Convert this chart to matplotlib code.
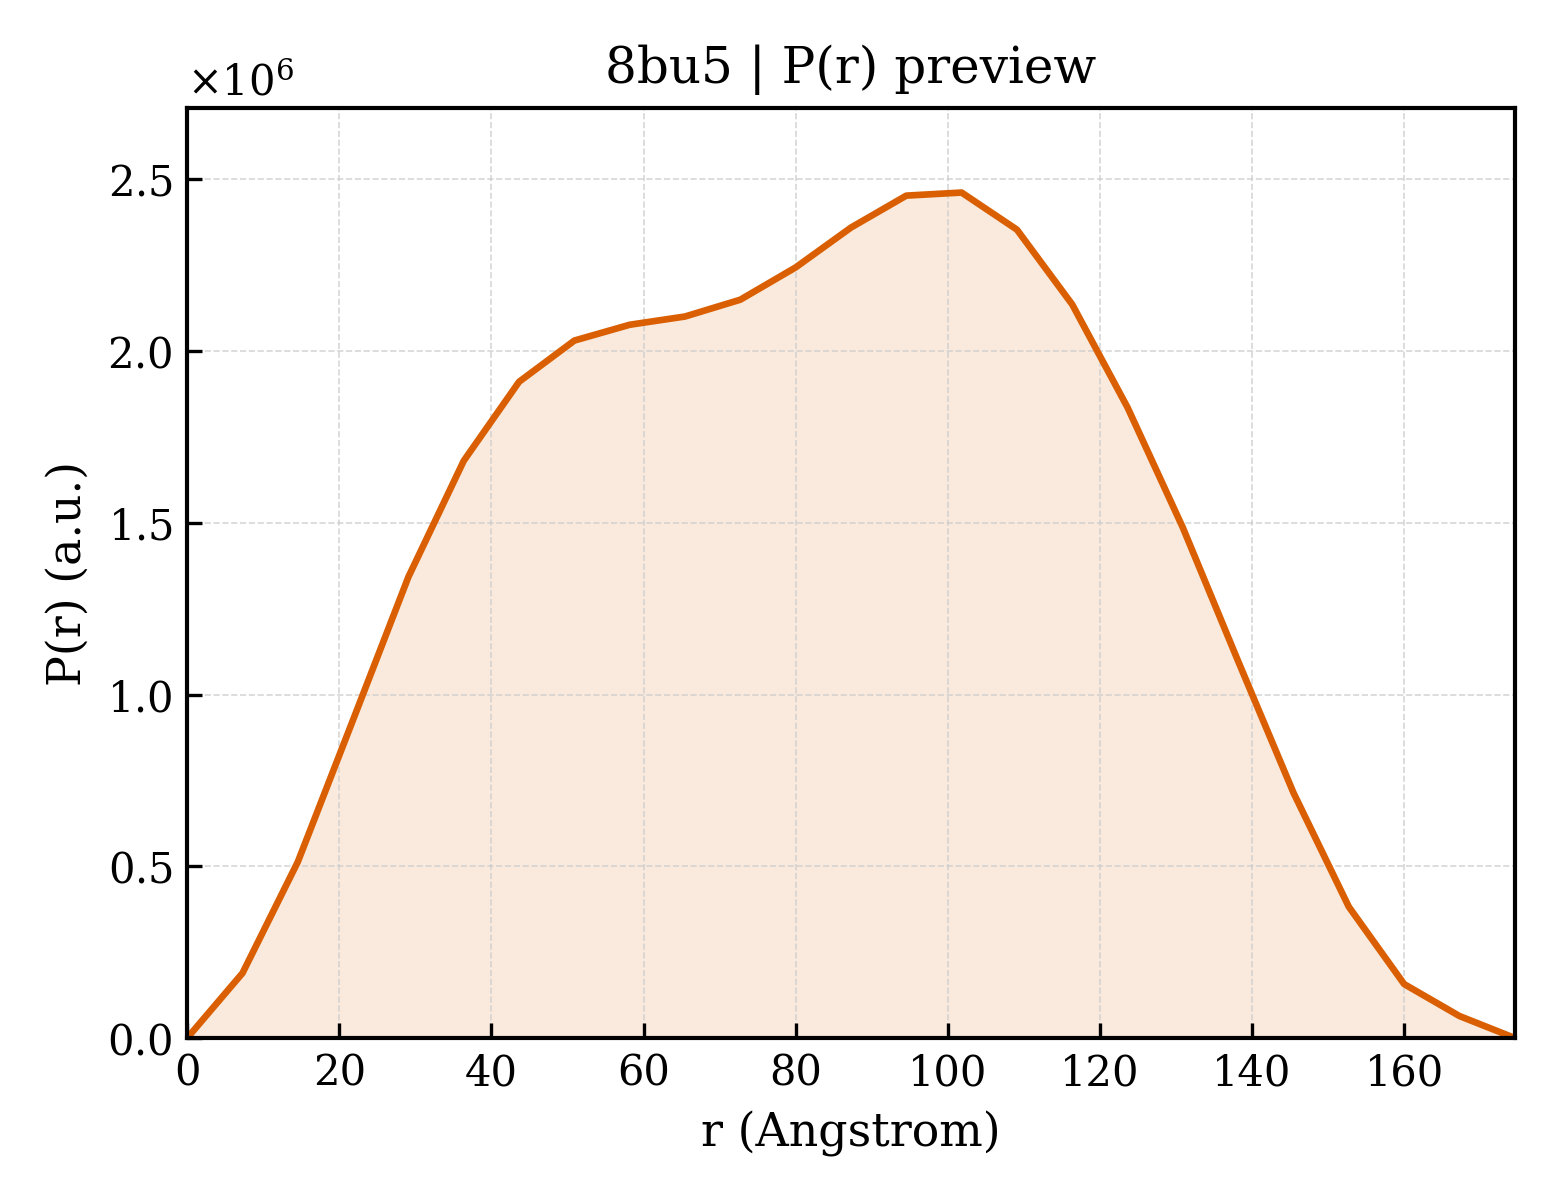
import numpy as np
import matplotlib
matplotlib.use("Agg")
import matplotlib.pyplot as plt

# P(r) values read from the preview (units of 1e6)
r = np.linspace(0, 174.55, 25)
pr = [0.0, 0.189, 0.513, 0.927, 1.343, 1.681, 1.911, 2.031, 2.077, 2.101,
      2.150, 2.244, 2.360, 2.453, 2.462, 2.354, 2.136, 1.836, 1.486, 1.097,
      0.714, 0.382, 0.157, 0.064, 0.0]
pr = np.array(pr) * 1e6

plt.rcParams['font.family'] = 'DejaVu Serif'
plt.rcParams['mathtext.fontset'] = 'dejavuserif'

fig, ax = plt.subplots(figsize=(5.2, 4), dpi=300)
color = '#d95f02'
ax.plot(r, pr, color=color, lw=1.6)
ax.fill_between(r, pr, 0, color=color, alpha=0.13, lw=0)

ax.set_xlim(0, r[-1])
ax.set_ylim(0, pr.max() * 1.1)
ax.set_xlabel('r (Angstrom)', fontsize=11)
ax.set_ylabel('P(r) (a.u.)', fontsize=11)
ax.set_title('8bu5 | P(r) preview', fontsize=12)
ax.tick_params(direction='in', labelsize=10)
ax.ticklabel_format(axis='y', style='sci', scilimits=(0, 0), useMathText=True)
ax.yaxis.get_offset_text().set_fontsize(10)
ax.grid(True, ls='--', lw=0.4, color='#cccccc', alpha=0.8)
for s in ax.spines.values():
    s.set_linewidth(1.0)

plt.subplots_adjust(left=0.12, right=0.971, top=0.91, bottom=0.135)
plt.savefig('out.png', dpi=300)
